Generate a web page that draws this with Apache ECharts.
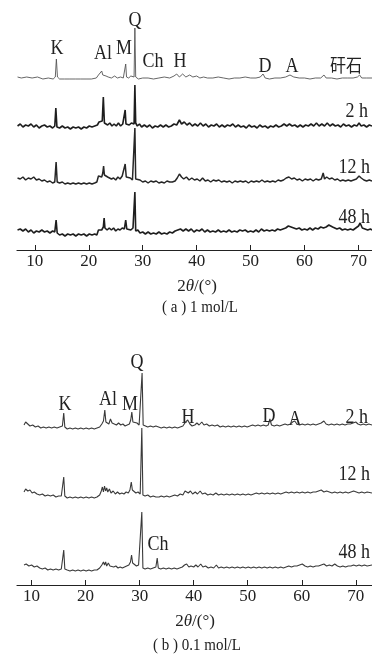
<!DOCTYPE html>
<html>
<head>
<meta charset="utf-8">
<script src="https://cdn.jsdelivr.net/npm/echarts@6/dist/echarts.min.js"></script>
<style>
  html, body { margin: 0; padding: 0; background: #fff; }
  #chart { width: 372px; height: 662px; }
</style>
</head>
<body>
<div id="chart"></div>
<script>
// tick labels, 2θ in degrees
var tickVals = [10, 20, 30, 40, 50, 60, 70];

// (a) 1 mol/L : [2θ, intensity]
var aRaw = [[6.8,9],[7.5,8],[8.5,9],[9.5,8],[10.5,9],[11.5,7],[12.5,8],[13.4,7],[13.8,9],[14.0,27],[14.2,9],[14.6,7],[15.5,7],[16.5,7],[17.5,7],[18.5,7],[19.5,7],[20.5,7],[21.4,8],[21.8,11],[22.1,10],[22.4,15],[22.6,11],[22.9,13],[23.2,10],[23.6,9],[24.2,8],[24.8,10],[25.3,8],[25.9,9],[26.4,8],[26.7,10],[26.85,22],[27.0,9],[27.4,8],[27.8,10],[28.1,8],[28.4,9],[28.55,58],[28.7,9],[29.2,7],[30,8],[31,8],[32,7],[33,8],[34,9],[35,8],[35.8,10],[36.3,12],[36.8,9],[37.4,12],[38,9],[38.7,11],[39.3,9],[40,10],[40.6,8],[41.3,9],[42,8],[43,8],[44,9],[45,8],[46,7],[47,8],[48,8],[49,9],[50,8],[51,8],[51.8,9],[52.3,12],[52.7,8],[53.5,7],[54.5,8],[55.5,8],[56.5,9],[57.3,11],[58,9],[59,8],[60,8],[61,7],[62,8],[63,8],[63.6,11],[64,8],[65,8],[66,7],[67,8],[68,8],[69,8],[69.8,9],[70.2,11],[70.6,8],[71.5,8],[72.5,8]];

var a2h = [[6.8,9],[7.3,11],[7.8,8],[8.3,10],[8.8,9],[9.3,11],[9.8,8],[10.3,10],[10.8,7],[11.3,9],[11.8,10],[12.3,8],[12.8,9],[13.3,7],[13.7,9],[13.9,27],[14.1,8],[14.6,7],[15.1,9],[15.6,7],[16.1,8],[16.6,6],[17.1,8],[17.6,7],[18.1,8],[18.6,6],[19.1,8],[19.6,7],[20.1,9],[20.6,8],[21.1,9],[21.6,10],[21.9,13],[22.2,11],[22.5,14],[22.7,38],[22.9,12],[23.2,14],[23.5,10],[23.9,12],[24.3,9],[24.7,11],[25.1,9],[25.5,12],[25.9,9],[26.3,11],[26.6,10],[26.75,25],[26.9,11],[27.2,13],[27.5,10],[27.9,12],[28.2,10],[28.4,11],[28.55,50],[28.7,12],[29,9],[29.4,11],[29.8,8],[30.3,10],[30.8,8],[31.3,10],[31.8,7],[32.3,9],[32.8,8],[33.3,10],[33.8,8],[34.3,10],[34.8,8],[35.3,9],[35.8,11],[36.3,10],[36.8,15],[37.2,11],[37.7,13],[38.2,10],[38.7,12],[39.2,9],[39.7,11],[40.2,9],[40.7,12],[41.2,9],[41.7,11],[42.2,8],[42.7,10],[43.2,9],[43.7,11],[44.2,8],[44.7,10],[45.2,8],[45.7,10],[46.2,9],[46.7,11],[47.2,8],[47.7,10],[48.2,8],[48.7,9],[49.2,7],[49.7,10],[50.2,8],[50.7,9],[51.2,7],[51.7,10],[52.2,8],[52.7,9],[53.2,7],[53.7,9],[54.2,8],[54.7,10],[55.2,8],[55.7,9],[56.2,11],[56.7,9],[57.2,11],[57.7,9],[58.2,10],[58.7,8],[59.2,10],[59.7,8],[60.2,10],[60.7,9],[61.2,11],[61.7,9],[62.2,12],[62.7,9],[63.2,11],[63.7,9],[64.2,12],[64.7,9],[65.2,11],[65.7,9],[66.2,10],[66.7,8],[67.2,11],[67.7,9],[68.2,10],[68.7,8],[69.2,10],[69.7,9],[70.1,12],[70.5,9],[71,10],[71.5,8],[72,10],[72.5,9]];

var a12h = [[6.8,12],[7.3,11],[7.8,13],[8.3,10],[8.8,12],[9.3,11],[9.8,13],[10.3,10],[10.8,11],[11.3,9],[11.8,10],[12.3,8],[12.8,9],[13.3,7],[13.7,8],[13.95,28],[14.15,8],[14.6,7],[15.1,8],[15.6,6],[16.1,7],[16.6,6],[17.1,7],[17.6,6],[18.1,7],[18.6,6],[19.1,7],[19.6,6],[20.1,7],[20.6,6],[21.1,7],[21.5,8],[21.8,14],[22.1,16],[22.4,13],[22.6,17],[22.75,24],[22.9,15],[23.2,17],[23.5,13],[23.8,15],[24.2,11],[24.6,12],[25,10],[25.4,13],[25.8,11],[26.2,14],[26.5,13],[26.75,26],[26.95,13],[27.3,11],[27.7,12],[28.1,10],[28.35,12],[28.55,62],[28.7,11],[29,9],[29.5,10],[30,8],[30.5,9],[31,7],[31.5,9],[32,8],[32.5,9],[33,7],[33.5,8],[34,7],[34.5,9],[35,8],[35.5,8],[36,9],[36.4,12],[36.8,16],[37.2,13],[37.6,11],[38.1,13],[38.6,10],[39.1,12],[39.6,10],[40.1,11],[40.6,9],[41.1,12],[41.6,9],[42.1,10],[42.6,8],[43.1,10],[43.6,9],[44.1,10],[44.6,8],[45.1,9],[45.6,8],[46.1,9],[46.6,7],[47.1,9],[47.6,8],[48.1,9],[48.6,8],[49.1,9],[49.6,7],[50.1,9],[50.6,8],[51.1,9],[51.6,8],[52.1,10],[52.6,8],[53.1,9],[53.6,8],[54.1,9],[54.6,8],[55.1,10],[55.6,9],[56.1,10],[56.6,12],[57.1,13],[57.6,11],[58.1,12],[58.6,10],[59.1,11],[59.6,9],[60.1,11],[60.6,10],[61.1,11],[61.6,9],[62.1,11],[62.6,10],[63.1,11],[63.45,17],[63.7,11],[64.1,13],[64.6,11],[65.1,12],[65.6,10],[66.1,11],[66.6,9],[67.1,10],[67.6,9],[68.1,10],[68.6,9],[69.1,10],[69.6,11],[70.1,14],[70.5,12],[71,10],[71.5,9],[72,10],[72.5,9]];

var a48h = [[6.8,10],[7.3,11],[7.8,9],[8.3,11],[8.8,8],[9.3,10],[9.8,7],[10.3,9],[10.8,8],[11.3,10],[11.8,8],[12.3,9],[12.8,7],[13.3,9],[13.7,8],[13.95,20],[14.15,7],[14.6,5],[15.1,6],[15.6,4],[16.1,6],[16.6,5],[17.1,6],[17.6,4],[18.1,6],[18.6,5],[19.1,6],[19.6,4],[20.1,6],[20.6,5],[21.1,6],[21.5,5],[21.8,10],[22.1,12],[22.4,10],[22.7,13],[22.85,22],[23,12],[23.4,10],[23.8,12],[24.2,10],[24.6,12],[25,9],[25.4,11],[25.8,10],[26.2,12],[26.6,11],[26.85,20],[27.05,11],[27.4,12],[27.8,10],[28.2,12],[28.4,10],[28.55,48],[28.7,9],[29.1,10],[29.5,7],[30,8],[30.5,6],[31,8],[31.5,6],[32,7],[32.5,6],[33,8],[33.5,6],[34,7],[34.5,6],[35,8],[35.5,7],[36,9],[36.5,10],[37,11],[37.5,9],[38,11],[38.5,9],[39,11],[39.5,8],[40,10],[40.5,9],[41,11],[41.5,8],[42,10],[42.5,8],[43,9],[43.5,8],[44,10],[44.5,8],[45,9],[45.5,8],[46,10],[46.5,8],[47,9],[47.5,8],[48,10],[48.5,9],[49,10],[49.5,8],[50,9],[50.5,8],[51,10],[51.5,8],[52,11],[52.5,9],[53,10],[53.5,9],[54,10],[54.5,9],[55,11],[55.5,10],[56,11],[56.5,12],[57,14],[57.5,13],[58,12],[58.5,11],[59,12],[59.5,10],[60,11],[60.5,10],[61,12],[61.5,10],[62,12],[62.5,11],[63,13],[63.5,12],[64,13],[64.5,15],[64.8,17],[65.2,13],[65.6,12],[66,11],[66.5,12],[67,10],[67.5,11],[68,10],[68.5,11],[69,10],[69.5,12],[70,14],[70.3,17],[70.7,12],[71.2,11],[71.7,10],[72.2,11],[72.5,10]];

// (b) 0.1 mol/L
var b2h = [[8.6,8],[8.9,11],[9.3,9],[9.7,7],[10.2,8],[10.7,6],[11.2,7],[11.7,5],[12.2,6],[12.7,5],[13.2,6],[13.7,5],[14.2,6],[14.7,5],[15.2,6],[15.7,7],[15.95,20],[16.15,6],[16.6,4],[17.1,5],[17.6,4],[18.1,5],[18.6,4],[19.1,5],[19.6,4],[20.1,5],[20.6,4],[21.1,5],[21.6,4],[22.1,5],[22.6,6],[23.0,9],[23.3,12],[23.55,23],[23.75,11],[24.0,13],[24.3,9],[24.6,14],[24.9,10],[25.3,9],[25.7,8],[26.1,10],[26.5,8],[26.9,9],[27.3,7],[27.7,8],[28.1,9],[28.35,13],[28.55,21],[28.75,11],[29.1,9],[29.5,10],[29.9,8],[30.2,9],[30.45,60],[30.65,8],[31,7],[31.5,6],[32,7],[32.5,6],[33,7],[33.5,6],[34,5],[34.5,6],[35,5],[35.5,6],[36,5],[36.5,6],[37,5],[37.5,6],[38,7],[38.5,11],[38.9,13],[39.3,9],[39.7,7],[40.2,8],[40.6,10],[41,8],[41.5,11],[41.9,8],[42.4,9],[42.9,7],[43.4,8],[43.9,7],[44.4,8],[44.9,6],[45.4,7],[45.9,6],[46.4,7],[46.9,6],[47.4,7],[47.9,6],[48.4,7],[48.9,6],[49.4,7],[49.9,6],[50.4,7],[50.9,8],[51.4,7],[51.9,8],[52.4,7],[52.9,8],[53.4,7],[53.8,8],[54.1,14],[54.4,8],[54.9,7],[55.4,8],[55.9,7],[56.4,8],[56.9,9],[57.4,8],[57.9,9],[58.3,11],[58.7,12],[59.1,9],[59.6,8],[60.1,9],[60.6,8],[61.1,9],[61.6,8],[62.1,9],[62.6,8],[63.1,9],[63.6,10],[64.1,12],[64.5,9],[65,8],[65.5,9],[66,8],[66.5,9],[67,8],[67.5,9],[68,8],[68.5,9],[69,9],[69.5,10],[70,11],[70.4,9],[70.9,8],[71.4,9],[71.9,8],[72.4,9],[73,8]];

var b12h = [[8.6,11],[8.9,14],[9.3,12],[9.7,13],[10.1,10],[10.5,11],[11,9],[11.5,8],[12,9],[12.5,7],[13,8],[13.5,7],[14,8],[14.5,6],[15,7],[15.5,7],[15.8,9],[15.95,26],[16.15,7],[16.6,5],[17.1,6],[17.6,5],[18.1,6],[18.6,5],[19.1,6],[19.6,5],[20.1,6],[20.6,5],[21.1,6],[21.6,5],[22.1,6],[22.6,8],[22.9,12],[23.1,16],[23.3,11],[23.5,17],[23.7,12],[23.9,15],[24.1,11],[24.4,14],[24.7,10],[25.1,12],[25.5,9],[25.9,11],[26.3,9],[26.7,10],[27.1,9],[27.5,11],[27.9,10],[28.2,13],[28.45,21],[28.65,13],[28.9,11],[29.3,10],[29.7,11],[30.1,9],[30.4,75],[30.6,8],[31,7],[31.5,8],[32,6],[32.5,7],[33,6],[33.3,8],[33.6,6],[34,7],[34.5,6],[35,7],[35.5,6],[36,7],[36.5,8],[37,7],[37.5,9],[38,8],[38.4,12],[38.7,14],[39,10],[39.4,12],[39.8,9],[40.3,11],[40.7,9],[41.2,12],[41.6,9],[42.1,10],[42.6,8],[43.1,9],[43.6,8],[44.1,10],[44.6,8],[45.1,9],[45.6,8],[46.1,9],[46.6,8],[47.1,9],[47.6,8],[48.1,9],[48.6,8],[49.1,9],[49.6,8],[50.1,9],[50.6,8],[51.1,9],[51.6,10],[52.1,9],[52.6,10],[53.1,9],[53.6,10],[54.1,9],[54.6,10],[55.1,9],[55.6,10],[56.1,9],[56.6,10],[57.1,11],[57.6,10],[58.1,11],[58.6,10],[59.1,11],[59.6,10],[60.1,11],[60.6,10],[61.1,11],[61.6,10],[62.1,11],[62.6,11],[63.1,12],[63.6,13],[64.1,11],[64.6,12],[65.1,11],[65.6,10],[66.1,11],[66.6,10],[67.1,11],[67.6,10],[68.1,11],[68.6,10],[69.1,11],[69.6,12],[70.1,11],[70.6,10],[71.1,11],[71.6,10],[72.1,11],[73,10]];

var b48h = [[8.6,11],[9,12],[9.5,10],[10,11],[10.5,9],[11,10],[11.5,8],[12,7],[12.5,8],[13,6],[13.5,7],[14,6],[14.5,7],[15,6],[15.5,7],[15.8,9],[15.95,26],[16.15,7],[16.6,6],[17.1,5],[17.6,6],[18.1,5],[18.6,6],[19.1,5],[19.6,6],[20.1,5],[20.6,6],[21.1,5],[21.6,6],[22.1,6],[22.6,8],[23,11],[23.3,14],[23.5,11],[23.7,14],[23.9,10],[24.2,13],[24.5,10],[24.8,12],[25.2,9],[25.6,10],[26,8],[26.4,9],[26.8,8],[27.2,9],[27.6,10],[28,11],[28.3,14],[28.5,21],[28.7,13],[29,11],[29.4,10],[29.8,11],[30.1,9],[30.4,64],[30.6,8],[31,7],[31.5,8],[32,7],[32.5,8],[33,9],[33.25,18],[33.45,8],[33.9,7],[34.4,8],[34.9,7],[35.4,8],[35.9,7],[36.4,8],[36.9,7],[37.4,8],[37.9,9],[38.3,11],[38.7,12],[39.1,9],[39.5,10],[40,9],[40.4,11],[40.8,9],[41.3,12],[41.7,9],[42.2,10],[42.7,8],[43.2,9],[43.7,8],[44.2,11],[44.6,8],[45.1,9],[45.6,8],[46.1,9],[46.6,8],[47.1,9],[47.6,8],[48.1,9],[48.6,8],[49.1,9],[49.6,8],[50.1,9],[50.6,8],[51.1,9],[51.6,8],[52.1,9],[52.6,8],[53.1,9],[53.6,8],[54.1,9],[54.6,8],[55.1,9],[55.6,8],[56.1,9],[56.6,8],[57.1,9],[57.6,10],[58.1,9],[58.6,10],[59.1,10],[59.6,11],[60.1,12],[60.6,10],[61.1,9],[61.6,10],[62.1,9],[62.6,10],[63.1,10],[63.6,11],[64.1,12],[64.6,10],[65.1,11],[65.6,10],[66.1,12],[66.6,10],[67.1,9],[67.6,10],[68.1,9],[68.6,10],[69.1,10],[69.6,11],[70.1,10],[70.6,11],[71.1,10],[71.6,11],[72.1,10],[73,11]];

var serif = "Liberation Serif";
var chart = echarts.init(document.getElementById("chart"), null, { renderer: "canvas" });

// each trace sits in its own strip, 1 unit = 1 px
var strips = [
  // panel (a)
  { top: 6,   min: 6.7, max: 72.5, data: aRaw, color: "#555", w: 0.9 },
  { top: 55,  min: 6.7, max: 72.5, data: a2h,  color: "#1e1e1e", w: 1.6 },
  { top: 110, min: 6.7, max: 72.5, data: a12h, color: "#262626", w: 1.5 },
  { top: 160, min: 6.7, max: 72.5, data: a48h, color: "#1e1e1e", w: 1.6 },
  // panel (b)
  { top: 353, min: 7.3, max: 73, data: b2h,  color: "#3a3a3a", w: 1.1 },
  { top: 423, min: 7.3, max: 73, data: b12h, color: "#3a3a3a", w: 1.1 },
  { top: 496, min: 7.3, max: 73, data: b48h, color: "#3a3a3a", w: 1.1 },
];
var axes = [
  { top: 200, min: 6.7, max: 72.5 },
  { top: 535, min: 7.3, max: 73 },
];

var grid = [], xAxis = [], yAxis = [], series = [];
strips.forEach(function (s, i) {
  grid.push({ left: 17, right: 0, top: s.top, height: 80 });
  xAxis.push({ gridIndex: i, type: "value", min: s.min, max: s.max, show: false });
  yAxis.push({ gridIndex: i, type: "value", min: 0, max: 80, show: false });
  series.push({
    type: "line", xAxisIndex: i, yAxisIndex: i, data: s.data,
    showSymbol: false, symbol: "none", silent: true,
    lineStyle: { color: s.color, width: s.w },
  });
});
axes.forEach(function (a) {
  var i = grid.length;
  grid.push({ left: 17, right: 0, top: a.top, height: 50 });
  xAxis.push({
    gridIndex: i, type: "value", min: a.min, max: a.max,
    axisLine: { show: true, onZero: false, lineStyle: { color: "#222", width: 1.2 } },
    axisTick: { show: true, inside: true, length: 5, customValues: tickVals, lineStyle: { color: "#222" } },
    axisLabel: { customValues: tickVals, color: "#222", fontFamily: serif, fontSize: 17, margin: 3 },
    splitLine: { show: false },
  });
  yAxis.push({ gridIndex: i, type: "value", min: 0, max: 1, show: false });
});

// the scanned lettering is a little taller than wide
function txt(x, y, s, size, align, font) {
  return {
    type: "text", x: x, y: y, scaleY: 1.15,
    style: {
      text: s, fill: "#222", fontFamily: font || serif, fontSize: size || 18,
      align: align || "center", verticalAlign: "middle",
    },
  };
}
function axisName(x, y) {
  return {
    type: "text", x: x, y: y,
    style: {
      text: "{n|2}{i|θ}{n|/(°)}", align: "center", verticalAlign: "middle",
      rich: {
        n: { fontFamily: serif, fontSize: 17, fill: "#222" },
        i: { fontFamily: serif, fontSize: 17, fontStyle: "italic", fill: "#222" },
      },
    },
  };
}

var graphic = [
  // (a)
  txt(57, 49, "K"), txt(103, 54, "Al"), txt(124, 49, "M"), txt(135, 21, "Q"),
  txt(153, 62, "Ch"), txt(180, 62, "H"), txt(265, 67, "D"), txt(292, 67, "A"),
  txt(346, 65, "矸石", 16, "center", "Noto Sans CJK SC"),
  txt(368, 112, "2 h", 18, "right"), txt(370, 168, "12 h", 18, "right"), txt(370, 218, "48 h", 18, "right"),
  axisName(197, 287),
  txt(200, 307, "( a ) 1 mol/L", 15),
  // (b)
  txt(137, 363, "Q"), txt(65, 405, "K"), txt(108, 400, "Al"), txt(130, 405, "M"),
  txt(188, 418, "H"), txt(269, 417, "D"), txt(295, 420, "A"),
  txt(368, 418, "2 h", 18, "right"), txt(370, 475, "12 h", 18, "right"), txt(370, 553, "48 h", 18, "right"),
  txt(158, 545, "Ch"),
  axisName(195, 622),
  txt(197, 645, "( b ) 0.1 mol/L", 15),
];

chart.setOption({
  animation: false,
  backgroundColor: "#fff",
  grid: grid,
  xAxis: xAxis,
  yAxis: yAxis,
  series: series,
  graphic: graphic,
});
</script>
</body>
</html>
